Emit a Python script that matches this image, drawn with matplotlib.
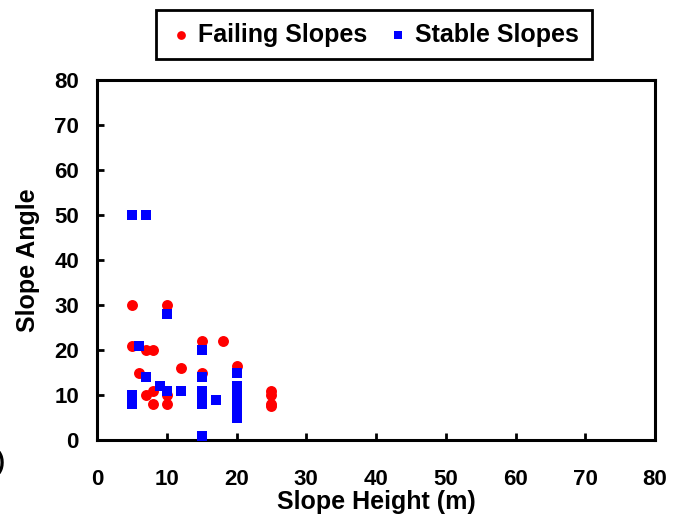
import matplotlib
matplotlib.use('Agg')
import matplotlib.pyplot as plt

# Slope height (m) / slope angle
FAILING_HEIGHT = [5, 10, 5, 7, 8, 6, 12, 15, 18, 15, 20, 7, 8, 8, 10, 10, 25, 25, 25, 25]
FAILING_ANGLE = [30, 30, 21, 20, 20, 15, 16, 22, 22, 15, 16.5, 10, 11, 8, 10, 8, 11, 10, 8, 7.5]

STABLE_HEIGHT = [5, 7, 10, 6, 7, 9, 10, 12, 5, 5,
                 15, 15, 15, 15, 15, 15, 15, 17,
                 20, 20, 20, 20, 20, 20, 20, 20, 20]
STABLE_ANGLE = [50, 50, 28, 21, 14, 12, 11, 11, 10, 8,
                20, 14, 11, 10, 9, 8, 1, 9,
                15, 12, 11, 10, 9, 8, 7, 6, 5]

TICKS = [0, 10, 20, 30, 40, 50, 60, 70, 80]

plt.rcParams['font.family'] = ['Liberation Sans', 'DejaVu Sans']
plt.rcParams['font.weight'] = 'bold'

fig = plt.figure(figsize=(6.82, 5.16), dpi=100)
ax = fig.add_axes([97 / 682, 1 - 440 / 516, 558 / 682, 360 / 516])

ax.scatter(FAILING_HEIGHT, FAILING_ANGLE, s=62, marker='o', color='#ff0000',
           linewidths=0, label='Failing Slopes', zorder=3)
ax.scatter(STABLE_HEIGHT, STABLE_ANGLE, s=55, marker='s', color='#0000ff',
           linewidths=0, label='Stable Slopes', zorder=4)

ax.set_xlim(0, 80)
ax.set_ylim(0, 80)
ax.set_xticks(TICKS)
ax.set_yticks(TICKS)
ax.tick_params(direction='in', length=5, width=2, labelsize=16)
ax.tick_params(axis='x', pad=21)
ax.tick_params(axis='y', pad=13)
for sp in ax.spines.values():
    sp.set_linewidth(2.2)
for lab in ax.get_xticklabels() + ax.get_yticklabels():
    lab.set_fontweight('bold')

ax.set_xlabel('Slope Height (m)', fontsize=18, fontweight='bold', labelpad=0)
ax.set_ylabel('Slope Angle', fontsize=18, fontweight='bold', labelpad=10)

leg = ax.legend(loc='lower center', bbox_to_anchor=(0.496, 1.058), ncol=2,
                fancybox=False, framealpha=1, edgecolor='black',
                prop={'size': 18, 'weight': 'bold'}, markerscale=0.8,
                handletextpad=0.2, columnspacing=0.7, handlelength=1.0,
                borderpad=0.5, borderaxespad=0)
leg.get_frame().set_linewidth(2)

# stray clipped bracket at the left edge of the source image
fig.text(-0.004, 1 - 462 / 516, ')', fontsize=17, fontweight='bold', va='center')

fig.savefig('out.png', dpi=100)
